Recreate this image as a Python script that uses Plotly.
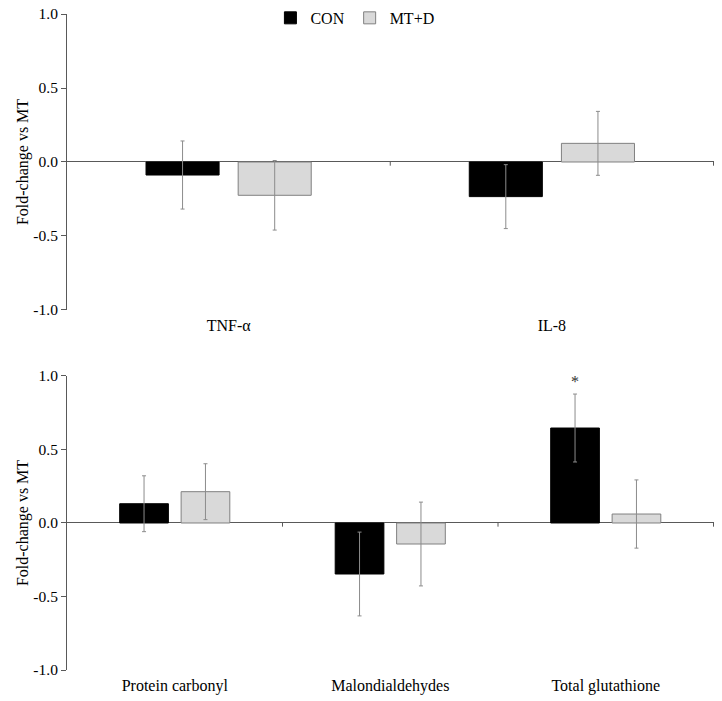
import plotly.graph_objects as go
from plotly.subplots import make_subplots

# ---- data ----
top_categories = ["TNF-α", "IL-8"]
top_con = [-0.088, -0.234]
top_con_err = [0.23, 0.216]
top_mtd = [-0.225, 0.126]
top_mtd_err = [0.235, 0.216]

bottom_categories = ["Protein carbonyl", "Malondialdehydes", "Total glutathione"]
bottom_con = [0.131, -0.347, 0.646]
bottom_con_err = [0.19, 0.285, 0.231]
bottom_mtd = [0.213, -0.143, 0.061]
bottom_mtd_err = [0.19, 0.285, 0.232]

series_names = ["CON", "MT+D"]
y_tickvals = [-1.0, -0.5, 0.0, 0.5, 1.0]
y_ticktext = ["-1.0", "-0.5", "0.0", "0.5", "1.0"]
y_title = "Fold-change vs MT"
significance_marks = ["", "", "*"]  # CON, bottom panel

# ---- style ----
FONT = "Liberation Serif, Times New Roman, serif"
CON_COLOR = "#000000"
MTD_COLOR = "#d9d9d9"
MTD_LINE = "#808080"
ERR_COLOR = "#8c8c8c"
AXIS_COLOR = "#595959"
BARGAP = 0.43
BARGROUPGAP = 0.207

fig = make_subplots(rows=2, cols=1, vertical_spacing=0.1)


def add_pair(row, cats, con, con_err, mtd, mtd_err, show):
    fig.add_trace(go.Bar(
        x=cats, y=con, name=series_names[0], showlegend=show, legendgroup="con",
        marker=dict(color=CON_COLOR, line=dict(color=CON_COLOR, width=1)),
        error_y=dict(type="data", array=con_err, visible=True, color=ERR_COLOR,
                     thickness=1, width=2),
    ), row=row, col=1)
    fig.add_trace(go.Bar(
        x=cats, y=mtd, name=series_names[1], showlegend=show, legendgroup="mtd",
        marker=dict(color=MTD_COLOR, line=dict(color=MTD_LINE, width=1)),
        error_y=dict(type="data", array=mtd_err, visible=True, color=ERR_COLOR,
                     thickness=1, width=2),
    ), row=row, col=1)


add_pair(1, top_categories, top_con, top_con_err, top_mtd, top_mtd_err, True)
add_pair(2, bottom_categories, bottom_con, bottom_con_err, bottom_mtd, bottom_mtd_err, False)

yaxis_common = dict(
    range=[-1, 1], tickvals=y_tickvals, ticktext=y_ticktext,
    showline=True, linecolor=AXIS_COLOR, linewidth=1,
    ticks="outside", ticklen=5, tickcolor=AXIS_COLOR, tickwidth=1,
    showgrid=False, zeroline=True, zerolinecolor=AXIS_COLOR, zerolinewidth=1,
    title=dict(text=y_title, font=dict(family=FONT, size=16, color="#000"), standoff=0),
    tickfont=dict(family=FONT, size=15.5, color="#000"),
    ticklabeloverflow="allow",
)
xaxis_common = dict(
    showline=False, showgrid=False, zeroline=False, ticks="",
    tickfont=dict(family=FONT, size=16, color="#000"),
    ticklabelstandoff=4, ticklabeloverflow="allow",
)

fig.update_layout(
    width=722, height=701,
    margin=dict(l=67, r=8, t=14, b=31, autoexpand=False),
    paper_bgcolor="white", plot_bgcolor="white",
    barmode="group", bargap=BARGAP, bargroupgap=BARGROUPGAP,
    font=dict(family=FONT, size=16, color="#000"),
    legend=dict(orientation="h", x=0.445, xanchor="center", y=0.994, yanchor="middle",
                font=dict(family=FONT, size=16, color="#000"),
                itemwidth=30, bgcolor="rgba(0,0,0,0)", traceorder="normal"),
    xaxis=dict(domain=[0, 1], **xaxis_common),
    xaxis2=dict(domain=[0, 1], **xaxis_common),
    yaxis=dict(domain=[0.5488, 1.0], **yaxis_common),
    yaxis2=dict(domain=[0.0, 0.4482], **yaxis_common),
)

# tick marks at category boundaries on the zero line
for xref, yref, n in [("x", "y", len(top_categories)), ("x2", "y2", len(bottom_categories))]:
    for k in range(1, n + 1):
        fig.add_shape(type="line", xref=xref, yref=yref, x0=k - 0.5, x1=k - 0.5,
                      y0=0, y1=-0.025, line=dict(color=AXIS_COLOR, width=1))

# significance marks above CON bars (bottom panel)
offset = (1 - BARGAP) / 4
for i, mark in enumerate(significance_marks):
    if mark:
        fig.add_annotation(x=i - offset, y=bottom_con[i] + bottom_con_err[i],
                           xref="x2", yref="y2", text=mark, showarrow=False,
                           yanchor="bottom", yshift=2,
                           font=dict(family=FONT, size=16, color="#333333"))

fig.write_html("out.html",
               config={"displayModeBar": False},
               post_script="document.body.style.margin='0px';document.body.style.overflow='hidden';")
